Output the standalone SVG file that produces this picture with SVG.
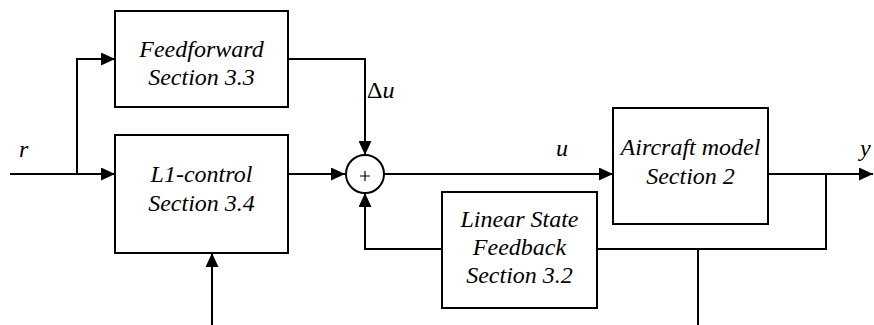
<svg xmlns="http://www.w3.org/2000/svg" width="874" height="325" viewBox="0 0 874 325">
<defs>
  <marker id="arr" markerUnits="userSpaceOnUse" markerWidth="14" markerHeight="13" refX="14" refY="6.5" orient="auto">
    <path d="M0,0 L14,6.5 L0,13 z" fill="#000"/>
  </marker>
</defs>
<g id="connectors" fill="none" stroke="#000" stroke-width="2">
  <path d="M10,174 H115" marker-end="url(#arr)"/>
  <path d="M77,174 V59 H115" marker-end="url(#arr)"/>
  <path d="M288,59 H365 V155" marker-end="url(#arr)"/>
  <path d="M288,174 H345" marker-end="url(#arr)"/>
  <path d="M384,174 H613" marker-end="url(#arr)"/>
  <path d="M768,174 H873" marker-end="url(#arr)"/>
  <path d="M826,174 V249 H597"/>
  <path d="M442,249 H365 V193" marker-end="url(#arr)"/>
  <path d="M212,325 V253" marker-end="url(#arr)"/>
  <path d="M698,249 V325"/>
</g>
<g id="feedforward">
  <rect x="115" y="11" width="173" height="96" fill="#fff" stroke="#000" stroke-width="2"/>
  <text font-family="'Liberation Serif', 'Times New Roman', serif" font-style="italic" font-size="24" text-anchor="middle" x="201.5" y="57">Feedforward</text>
  <text font-family="'Liberation Serif', 'Times New Roman', serif" font-style="italic" font-size="24" text-anchor="middle" x="201.5" y="85">Section 3.3</text>
</g>
<g id="l1control">
  <rect x="115" y="135" width="173" height="118" fill="#fff" stroke="#000" stroke-width="2"/>
  <text font-family="'Liberation Serif', 'Times New Roman', serif" font-style="italic" font-size="24" text-anchor="middle" x="201.5" y="182">L1-control</text>
  <text font-family="'Liberation Serif', 'Times New Roman', serif" font-style="italic" font-size="24" text-anchor="middle" x="201.5" y="211">Section 3.4</text>
</g>
<g id="sum">
  <circle cx="365" cy="174" r="19" fill="#fff" stroke="#000" stroke-width="2"/>
  <path d="M360,176 H370 M365,171 V181" stroke="#000" stroke-width="1.2"/>
</g>
<g id="aircraft">
  <rect x="613" y="108" width="155" height="116" fill="#fff" stroke="#000" stroke-width="2"/>
  <text font-family="'Liberation Serif', 'Times New Roman', serif" font-style="italic" font-size="24" text-anchor="middle" x="690.5" y="155">Aircraft model</text>
  <text font-family="'Liberation Serif', 'Times New Roman', serif" font-style="italic" font-size="24" text-anchor="middle" x="690.5" y="184">Section 2</text>
</g>
<g id="lsf">
  <rect x="442" y="192" width="155" height="116" fill="#fff" stroke="#000" stroke-width="2"/>
  <text font-family="'Liberation Serif', 'Times New Roman', serif" font-style="italic" font-size="24" text-anchor="middle" x="519.5" y="227">Linear State</text>
  <text font-family="'Liberation Serif', 'Times New Roman', serif" font-style="italic" font-size="24" text-anchor="middle" x="519.5" y="255">Feedback</text>
  <text font-family="'Liberation Serif', 'Times New Roman', serif" font-style="italic" font-size="24" text-anchor="middle" x="519.5" y="283">Section 3.2</text>
</g>
<g id="labels">
  <text font-family="'Liberation Serif', 'Times New Roman', serif" font-style="italic" font-size="24" x="19" y="157">r</text>
  <text font-family="'Liberation Serif', 'Times New Roman', serif" font-size="24" x="367" y="98">&#916;<tspan font-style="italic">u</tspan></text>
  <text font-family="'Liberation Serif', 'Times New Roman', serif" font-style="italic" font-size="24" x="556" y="156">u</text>
  <text font-family="'Liberation Serif', 'Times New Roman', serif" font-style="italic" font-size="24" x="860" y="156">y</text>
</g>
</svg>
